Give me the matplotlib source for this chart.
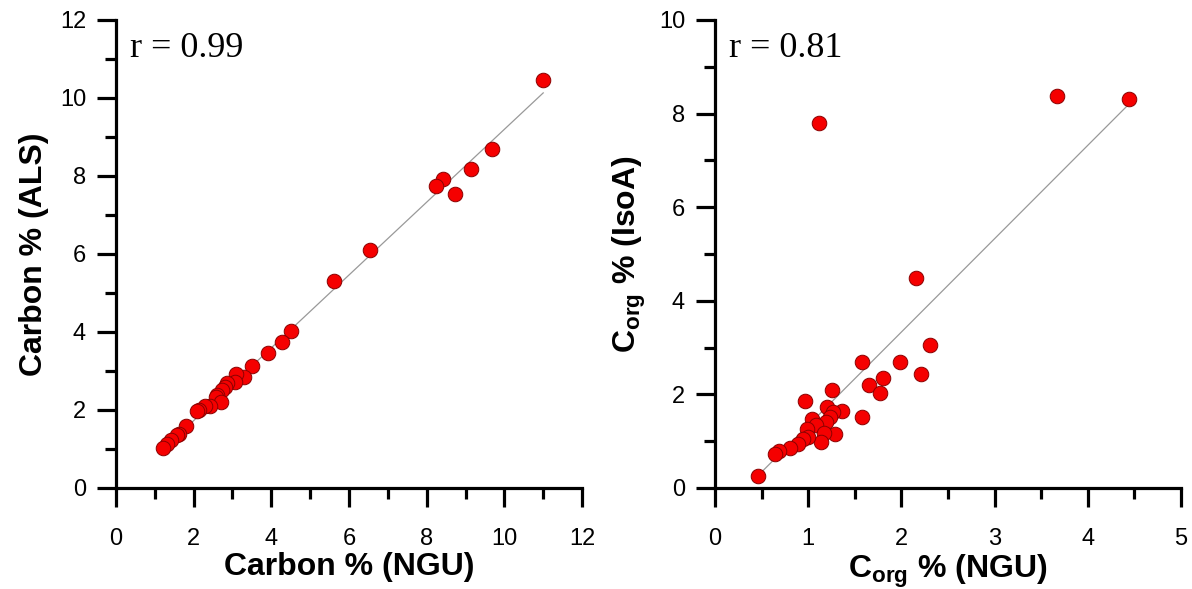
import numpy as np
import matplotlib
matplotlib.use("Agg")
import matplotlib.pyplot as plt
from matplotlib.ticker import MultipleLocator

plt.rcParams["font.family"] = ["Liberation Sans", "DejaVu Sans"]
plt.rcParams["mathtext.fontset"] = "custom"
plt.rcParams["mathtext.rm"] = "Liberation Sans"
plt.rcParams["mathtext.bf"] = "Liberation Sans:bold"

# Total carbon: NGU vs ALS
carbon_ngu = [11.0, 9.67, 9.13, 8.42, 8.23, 8.73, 6.54, 5.61, 4.51, 4.27, 3.92, 3.49,
              3.30, 3.09, 3.06, 2.87, 2.81, 2.72, 2.59, 2.58, 2.70, 2.42, 2.29, 2.15,
              2.09, 1.79, 1.63, 1.56, 1.41, 1.31, 1.22]
carbon_als = [10.47, 8.69, 8.17, 7.92, 7.74, 7.54, 6.10, 5.31, 4.03, 3.75, 3.47, 3.13,
              2.84, 2.92, 2.73, 2.68, 2.60, 2.51, 2.38, 2.34, 2.21, 2.10, 2.10, 2.00,
              1.97, 1.59, 1.38, 1.36, 1.23, 1.13, 1.02]
carbon_fit_x = [1.2, 11.0]
carbon_fit_y = [0.98, 10.13]
carbon_r = "r = 0.99"

# Organic carbon: NGU vs IsoA
corg_ngu = [4.44, 3.67, 1.12, 2.16, 2.31, 1.99, 2.21, 1.58, 1.80, 1.65, 1.77, 1.26,
            0.97, 1.58, 1.20, 1.36, 1.27, 1.23, 1.19, 1.04, 1.08, 0.99, 1.29, 1.17,
            1.14, 1.00, 0.94, 0.89, 0.80, 0.69, 0.64, 0.46]
corg_isoa = [8.31, 8.38, 7.80, 4.48, 3.06, 2.69, 2.44, 2.70, 2.36, 2.19, 2.04, 2.09,
             1.86, 1.52, 1.72, 1.65, 1.63, 1.52, 1.42, 1.47, 1.35, 1.25, 1.15, 1.17,
             0.99, 1.10, 1.05, 0.95, 0.86, 0.78, 0.73, 0.26]
corg_fit_x = [0.46, 4.43]
corg_fit_y = [0.26, 8.18]
corg_r = "r = 0.81"

fig = plt.figure(figsize=(11.92, 5.89), dpi=100)
ax1 = fig.add_axes([0.0973, 0.1715, 0.391, 0.7946])
ax2 = fig.add_axes([0.5998, 0.1715, 0.391, 0.7946])


def style(ax, xmax, ymax, xmaj, ymaj):
    ax.set_xlim(0, xmax)
    ax.set_ylim(0, ymax)
    ax.xaxis.set_major_locator(MultipleLocator(xmaj))
    ax.xaxis.set_minor_locator(MultipleLocator(xmaj / 2))
    ax.yaxis.set_major_locator(MultipleLocator(ymaj))
    ax.yaxis.set_minor_locator(MultipleLocator(ymaj / 2))
    for s in ("top", "right"):
        ax.spines[s].set_visible(False)
    for s in ("left", "bottom"):
        ax.spines[s].set_linewidth(2.3)
    ax.tick_params(which="major", direction="out", length=13.5, width=2.3,
                   labelsize=17)
    ax.tick_params(axis="x", which="major", pad=15)
    ax.tick_params(axis="y", which="major", pad=8)
    ax.tick_params(which="minor", direction="out", length=8, width=2.3)


def points(ax, x, y, fx, fy, label):
    ax.plot(fx, fy, color="#999999", lw=0.9, zorder=2)
    ax.scatter(x, y, s=110, color="#f50000", edgecolor="#8b0000",
               linewidth=0.7, zorder=3, clip_on=False)
    ax.text(0.03, 0.975, label, transform=ax.transAxes, ha="left", va="top",
            fontsize=26, family=["Liberation Serif"])


style(ax1, 12, 12, 2, 2)
points(ax1, carbon_ngu, carbon_als, carbon_fit_x, carbon_fit_y, carbon_r)
ax1.set_xlabel("Carbon % (NGU)", fontsize=23, fontweight="bold", labelpad=2)
ax1.set_ylabel("Carbon % (ALS)", fontsize=23, fontweight="bold", labelpad=8)

style(ax2, 5, 10, 1, 2)
points(ax2, corg_ngu, corg_isoa, corg_fit_x, corg_fit_y, corg_r)
ax2.set_xlabel(r"$\mathbf{C_{org}}$ % (NGU)", fontsize=23, fontweight="bold", labelpad=2)
ax2.set_ylabel(r"$\mathbf{C_{org}}$ % (IsoA)", fontsize=23, fontweight="bold", labelpad=8)

fig.savefig("out.png", dpi=100)
